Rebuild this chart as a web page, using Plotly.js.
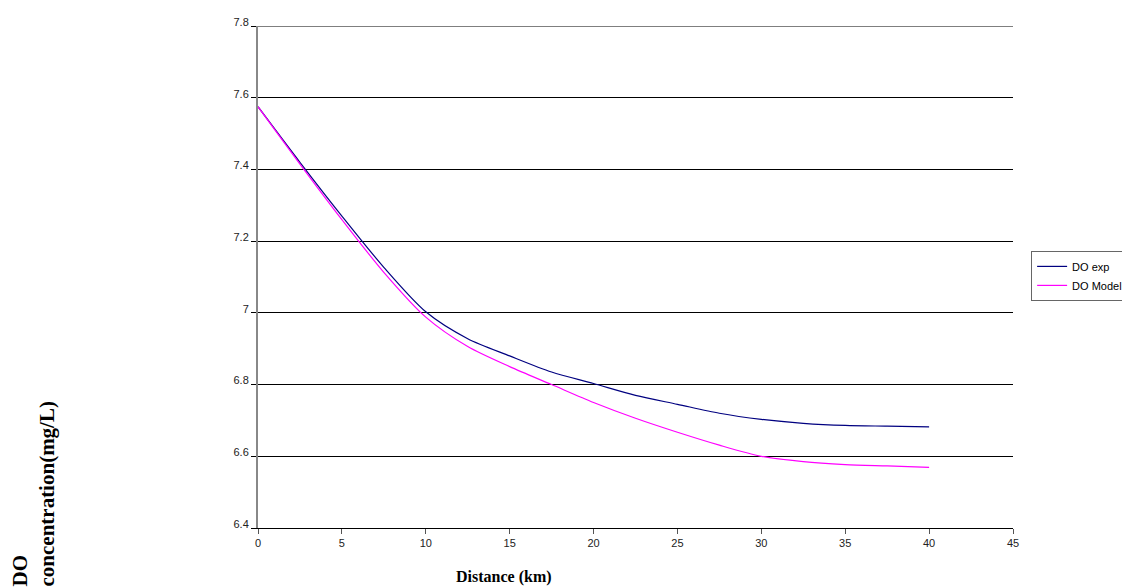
<!DOCTYPE html>
<html>
<head>
<meta charset="utf-8">
<script src="https://cdn.plot.ly/plotly-3.0.1.min.js"></script>
<style>html,body{margin:0;padding:0;background:#fff;}#chart{width:1122px;height:588px;}</style>
</head>
<body>
<div id="chart"></div>
<script>
var distance = [0, 2.5, 5, 7.5, 10, 12.5, 15, 17.5, 20, 22.5, 25, 27.5, 30, 32.5, 35, 37.5, 40];
var doExp   = [7.575, 7.42, 7.27, 7.127, 7.003, 6.928, 6.88, 6.835, 6.803, 6.77, 6.745, 6.72, 6.703, 6.692, 6.686, 6.684, 6.682];
var doModel = [7.575, 7.415, 7.26, 7.113, 6.988, 6.906, 6.85, 6.80, 6.75, 6.706, 6.667, 6.631, 6.60, 6.585, 6.577, 6.573, 6.569];
var yTicks = [6.4, 6.6, 6.8, 7, 7.2, 7.4, 7.6, 7.8];
var yTickLabels = ['6.4', '6.6', '6.8', '7', '7.2', '7.4', '7.6', '7.8'];
var xTicks = [0, 5, 10, 15, 20, 25, 30, 35, 40, 45];

var traces = [
  {x: distance, y: doExp, name: 'DO exp', mode: 'lines', line: {color: '#000080', width: 1.2, shape: 'spline', smoothing: 0.8}},
  {x: distance, y: doModel, name: 'DO Model', mode: 'lines', line: {color: '#FF00FF', width: 1.2, shape: 'spline', smoothing: 0.8}}
];

var layout = {
  width: 1122, height: 588,
  margin: {l: 258, r: 109, t: 26, b: 60, autoexpand: false},
  paper_bgcolor: '#fff', plot_bgcolor: '#fff',
  font: {family: 'Liberation Sans, Arial, sans-serif', size: 11, color: '#222'},
  xaxis: {
    range: [0, 45], tickvals: xTicks, ticktext: xTicks.map(String),
    showgrid: false, zeroline: false,
    showline: true, linecolor: '#000', linewidth: 1,
    ticks: 'outside', ticklen: 5, tickcolor: '#555',
    tickfont: {size: 11, color: '#222'}
  },
  yaxis: {
    range: [6.4, 7.8], tickvals: yTicks, ticktext: yTickLabels,
    showgrid: true, gridcolor: '#000', gridwidth: 1, zeroline: false,
    showline: true, linecolor: '#888', linewidth: 2,
    ticks: 'outside', ticklen: 5, tickcolor: '#000',
    ticklabelshift: -4,
    tickfont: {size: 11, color: '#222'}
  },
  shapes: [
    {type: 'line', xref: 'paper', x0: 0, x1: 1, yref: 'y', y0: yTicks[yTicks.length - 1], y1: yTicks[yTicks.length - 1],
     line: {color: '#000', width: 1}, layer: 'below'}
  ],
  showlegend: true,
  legend: {
    x: 1.024, y: 0.552, xanchor: 'left', yanchor: 'top',
    bgcolor: '#fff', bordercolor: '#666', borderwidth: 1,
    font: {family: 'Liberation Sans, Arial, sans-serif', size: 11, color: '#000'},
    tracegroupgap: 0
  },
  annotations: [
    {xref: 'paper', yref: 'paper', x: 0.326, y: -0.098, xanchor: 'center', yanchor: 'middle',
     text: '<b>Distance (km)</b>', showarrow: false,
     font: {family: 'Liberation Serif, Times New Roman, serif', size: 16, color: '#000'}},
    {xref: 'paper', yref: 'paper', x: -0.297, y: -0.12, xanchor: 'center', yanchor: 'bottom',
     text: '<b>DO<br>concentration(mg/L)</b>', textangle: -90, align: 'left', showarrow: false,
     font: {family: 'Liberation Serif, Times New Roman, serif', size: 21, color: '#000'}}
  ]
};

Plotly.newPlot('chart', traces, layout, {displayModeBar: false, staticPlot: true});
</script>
</body>
</html>
